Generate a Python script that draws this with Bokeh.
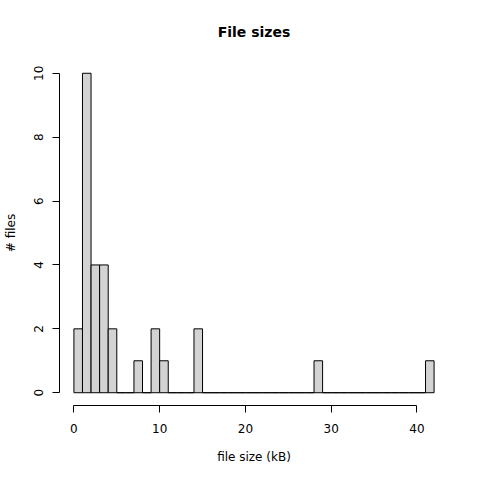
from bokeh.plotting import figure
from bokeh.models import Range1d, FixedTicker
from bokeh.embed import file_html
from bokeh.resources import INLINE

edges = list(range(0, 43))
counts = [2, 10, 4, 4, 2, 0, 0, 1, 0, 2, 1, 0, 0, 0, 2,
          0, 0, 0, 0, 0, 0, 0, 0, 0, 0, 0, 0, 0,
          1,
          0, 0, 0, 0, 0, 0, 0, 0, 0, 0, 0, 0,
          1]
x_ticks = [0, 10, 20, 30, 40]
y_ticks = [0, 2, 4, 6, 8, 10]

p = figure(width=464, height=466, output_backend="svg", toolbar_location=None,
           x_range=Range1d(-1.68, 43.68), y_range=Range1d(-0.4, 10.4),
           title="File sizes", min_border_left=59, min_border_right=16,
           min_border_top=59, min_border_bottom=60)
p.quad(left=edges[:-1], right=edges[1:], bottom=0, top=counts,
       fill_color="#D3D3D3", line_color="black", line_width=1)

p.outline_line_color = None
p.xgrid.visible = False
p.ygrid.visible = False
p.background_fill_color = "white"
p.border_fill_color = "white"

p.title.align = "center"
p.title.text_font = "DejaVu Sans"
p.title.text_font_size = "14px"
p.title.text_font_style = "bold"
p.title.text_color = "black"
p.title.standoff = 42

for ax in (p.xaxis[0], p.yaxis[0]):
    ax.major_tick_out = 7
    ax.major_tick_in = 0
    ax.minor_tick_out = 0
    ax.minor_tick_in = 0
    ax.major_label_text_font = "DejaVu Sans"
    ax.major_label_text_font_size = "12px"
    ax.major_label_text_color = "black"
    ax.axis_label_text_font = "DejaVu Sans"
    ax.axis_label_text_font_size = "12px"
    ax.axis_label_text_font_style = "normal"
    ax.axis_label_text_color = "black"
    ax.axis_line_color = "black"
    ax.major_tick_line_color = "black"

p.xaxis.ticker = FixedTicker(ticks=x_ticks)
p.yaxis.ticker = FixedTicker(ticks=y_ticks)
p.xaxis.bounds = (0, 40)
p.yaxis.bounds = (0, 10)
p.xaxis.axis_label = "file size (kB)"
p.yaxis.axis_label = "# files"
p.yaxis.major_label_orientation = "vertical"
p.xaxis.major_label_standoff = 11
p.yaxis.major_label_standoff = 9
p.xaxis.axis_label_standoff = 14
p.yaxis.axis_label_standoff = 14

open("out.html", "w").write(file_html(p, INLINE))
